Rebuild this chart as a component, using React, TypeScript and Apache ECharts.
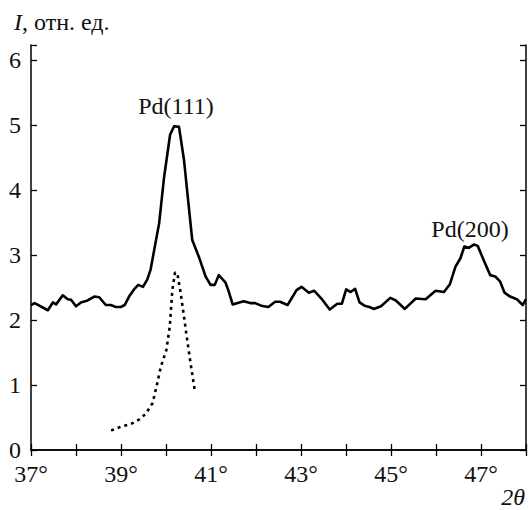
import React, { useEffect, useRef } from "react";
import * as echarts from "echarts";

const solidX = [37.0, 37.082, 37.375, 37.486, 37.558, 37.706, 37.817, 37.89, 38.0, 38.11, 38.258, 38.406, 38.517, 38.662, 38.773, 38.883, 38.993, 39.082, 39.179, 39.289, 39.384, 39.488, 39.583, 39.656, 39.848, 39.958, 40.091, 40.179, 40.289, 40.4, 40.583, 40.731, 40.879, 40.989, 41.084, 41.172, 41.32, 41.393, 41.481, 41.724, 41.872, 41.982, 42.115, 42.276, 42.424, 42.534, 42.702, 42.901, 43.011, 43.174, 43.291, 43.453, 43.638, 43.806, 43.909, 44.004, 44.102, 44.203, 44.3, 44.411, 44.521, 44.616, 44.777, 44.985, 45.108, 45.307, 45.55, 45.77, 45.991, 46.177, 46.309, 46.433, 46.543, 46.631, 46.728, 46.839, 46.927, 47.06, 47.205, 47.316, 47.426, 47.523, 47.647, 47.795, 47.927, 48.0];
const solidY = [2.23, 2.26, 2.15, 2.27, 2.24, 2.38, 2.32, 2.31, 2.21, 2.27, 2.3, 2.36, 2.35, 2.23, 2.23, 2.2, 2.2, 2.23, 2.36, 2.47, 2.54, 2.51, 2.62, 2.77, 3.49, 4.2, 4.85, 4.98, 4.97, 4.46, 3.23, 2.97, 2.67, 2.54, 2.54, 2.69, 2.58, 2.44, 2.24, 2.29, 2.26, 2.26, 2.22, 2.2, 2.28, 2.28, 2.23, 2.46, 2.51, 2.42, 2.45, 2.33, 2.16, 2.25, 2.25, 2.47, 2.43, 2.48, 2.27, 2.22, 2.2, 2.17, 2.21, 2.34, 2.3, 2.17, 2.33, 2.32, 2.45, 2.43, 2.55, 2.82, 2.95, 3.13, 3.11, 3.16, 3.14, 2.92, 2.69, 2.67, 2.59, 2.42, 2.36, 2.32, 2.23, 2.32];

const dottedX = [38.781, 39.002, 39.223, 39.406, 39.554, 39.7, 39.788, 39.885, 40.009, 40.084, 40.141, 40.201, 40.252, 40.327, 40.4, 40.472, 40.547, 40.636];
const dottedY = [0.3, 0.36, 0.4, 0.47, 0.56, 0.72, 0.97, 1.28, 1.54, 1.9, 2.46, 2.73, 2.72, 2.41, 2.05, 1.69, 1.33, 0.93];

const xMin = 37;
const xMax = 48;
const yMin = 0;
const yMax = 6.23;

const yTitle = "{i|I}, отн. ед.";
const xTitle = "2θ";
const peakLabels = ["Pd(111)", "Pd(200)"];

const FONT = "'Liberation Serif', serif";
const FS = 24;
const INK = "#111";

export default function App() {
  const ref = useRef<HTMLDivElement>(null);
  useEffect(() => {
    if (!ref.current) return;
    const chart = echarts.init(ref.current, undefined, { renderer: "svg" });
    const axisLine = { show: true, lineStyle: { color: "#000", width: 1.5 } };
    const axisTick = { show: true, inside: true, length: 6, lineStyle: { color: "#000", width: 1.3 } };
    const xLabel = {
      fontFamily: FONT,
      fontSize: FS,
      color: INK,
      margin: 12,
      formatter: (v: number) => (Math.round(v) === v && v % 2 === 1 ? `${v}°` : ""),
    };
    const yLabel = {
      fontFamily: FONT,
      fontSize: FS,
      color: INK,
      margin: 10,
      formatter: (v: number) => (Number.isInteger(v) ? String(v) : ""),
    };
    chart.setOption({
      animation: false,
      grid: { left: 31, right: -1, top: 45, bottom: 60 },
      xAxis: [
        { type: "value", min: xMin, max: xMax, interval: 1, position: "bottom", axisLine, axisTick, axisLabel: xLabel, splitLine: { show: false } },
        { type: "value", min: xMin, max: xMax, interval: 1, position: "top", axisLine, axisTick, axisLabel: { show: false }, splitLine: { show: false } },
      ],
      yAxis: [
        { type: "value", min: yMin, max: yMax, interval: 1, position: "left", axisLine, axisTick, axisLabel: yLabel, splitLine: { show: false } },
        { type: "value", min: yMin, max: yMax, interval: 1, position: "right", axisLine, axisTick, axisLabel: { show: false }, splitLine: { show: false } },
      ],
      series: [
        {
          type: "line",
          data: solidX.map((x, i) => [x, solidY[i]]),
          showSymbol: false,
          symbol: "none",
          lineStyle: { color: "#000", width: 2.6, join: "round" },
          clip: true,
        },
        {
          type: "line",
          data: dottedX.map((x, i) => [x, dottedY[i]]),
          showSymbol: false,
          symbol: "none",
          lineStyle: { color: "#000", width: 2.6, type: [3, 4] },
          clip: true,
        },
      ],
      graphic: [
        {
          type: "text",
          x: 14,
          y: 22,
          style: {
            text: yTitle,
            fontFamily: FONT,
            fontSize: FS,
            fill: INK,
            verticalAlign: "middle",
            rich: { i: { fontFamily: FONT, fontSize: FS, fontStyle: "italic", fill: INK } },
          },
        },
        {
          type: "text",
          x: 525,
          y: 497,
          style: { text: xTitle, fontFamily: FONT, fontSize: FS, fontStyle: "italic", fill: INK, align: "right", verticalAlign: "middle" },
        },
        {
          type: "text",
          x: 176,
          y: 106,
          style: { text: peakLabels[0], fontFamily: FONT, fontSize: FS, fill: INK, align: "center", verticalAlign: "middle" },
        },
        {
          type: "text",
          x: 470,
          y: 229,
          style: { text: peakLabels[1], fontFamily: FONT, fontSize: FS, fill: INK, align: "center", verticalAlign: "middle" },
        },
      ],
    });
    return () => chart.dispose();
  }, []);
  return <div ref={ref} style={{ width: 529, height: 510, position: "absolute", left: 0, top: 0 }} />;
}
